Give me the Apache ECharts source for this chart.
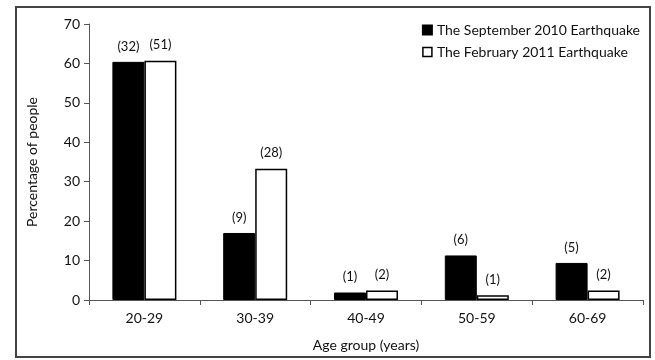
<!DOCTYPE html>
<html><head><meta charset="utf-8">
<script src="https://cdn.jsdelivr.net/npm/echarts@6/dist/echarts.min.js"></script>
<style>html,body{margin:0;padding:0;background:#fff}#c{width:655px;height:360px}</style>
</head><body><div id="c"></div>
<script>
var categories = ['20-29', '30-39', '40-49', '50-59', '60-69'];
var sept2010 = [60.4, 17.0, 1.9, 11.3, 9.4];
var feb2011 = [60.7, 33.3, 2.4, 1.2, 2.4];
var septCounts = [32, 9, 1, 6, 5];
var febCounts = [51, 28, 2, 1, 2];
var seriesNames = ['The September 2010 Earthquake', 'The February 2011 Earthquake'];
var yTicks = [0, 10, 20, 30, 40, 50, 60, 70];

var FONT = 'Lato';
var TXT = '#111';
var chart = echarts.init(document.getElementById('c'), null, {renderer: 'canvas'});
function lbl(counts) {
  return {show: true, position: 'top', distance: 9, fontFamily: FONT, fontSize: 13, color: TXT,
    formatter: function (p) { return '(' + counts[p.dataIndex] + ')'; }};
}
chart.setOption({
  animation: false,
  textStyle: {fontFamily: FONT},
  grid: {left: 89, right: 12, top: 24, bottom: 60},
  graphic: [{type: 'rect', shape: {x: 16, y: 7, width: 634, height: 350},
    style: {fill: 'none', stroke: '#444', lineWidth: 2}, silent: true}],
  legend: {
    orient: 'vertical', right: 10, top: 18, itemWidth: 9, itemHeight: 9, itemGap: 8,
    icon: 'rect', textStyle: {fontFamily: FONT, fontSize: 14, color: TXT},
    data: [
      {name: seriesNames[0], itemStyle: {color: '#000'}},
      {name: seriesNames[1], itemStyle: {color: '#fff', borderColor: '#000', borderWidth: 1.5}}
    ]
  },
  xAxis: {
    type: 'category', data: categories,
    axisLine: {lineStyle: {color: '#555', width: 1}},
    axisTick: {show: true, length: 5, lineStyle: {color: '#555'}},
    axisLabel: {fontFamily: FONT, fontSize: 14, color: TXT, margin: 11},
    name: 'Age group (years)', nameLocation: 'middle', nameGap: 38,
    nameTextStyle: {fontFamily: FONT, fontSize: 14, color: TXT}
  },
  yAxis: {
    type: 'value', min: yTicks[0], max: yTicks[yTicks.length - 1], interval: 10,
    splitLine: {show: false},
    axisLine: {show: true, lineStyle: {color: '#555', width: 1}},
    axisTick: {show: true, length: 5, lineStyle: {color: '#555'}},
    axisLabel: {fontFamily: FONT, fontSize: 14, color: TXT, margin: 9},
    name: 'Percentage of people', nameLocation: 'middle', nameGap: 50,
    nameTextStyle: {fontFamily: FONT, fontSize: 14, color: TXT}
  },
  series: [
    {name: seriesNames[0], type: 'bar', data: sept2010, barWidth: 32, barGap: '0%',
      itemStyle: {color: '#000', borderColor: '#000', borderWidth: 1}, label: lbl(septCounts)},
    {name: seriesNames[1], type: 'bar', data: feb2011, barWidth: 32, barGap: '0%',
      itemStyle: {color: '#fff', borderColor: '#000', borderWidth: 1.5}, label: lbl(febCounts)}
  ]
});
</script></body></html>
